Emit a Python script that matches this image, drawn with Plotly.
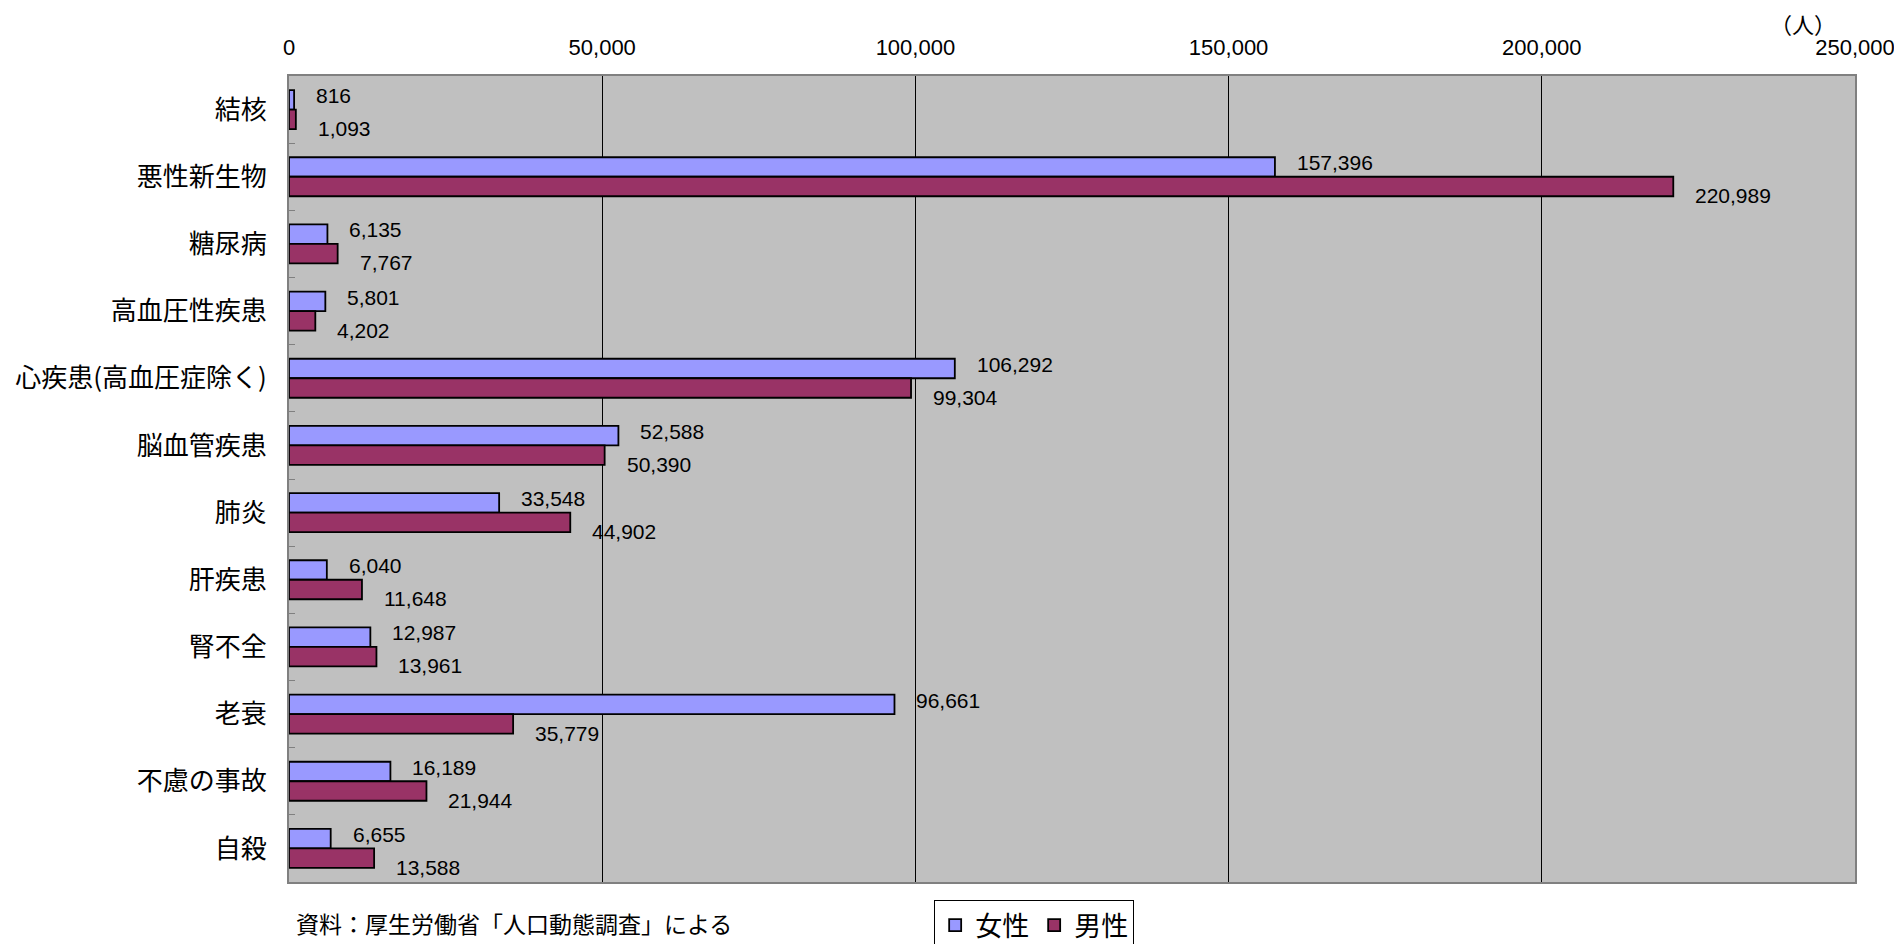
import plotly.graph_objects as go

categories = ["結核", "悪性新生物", "糖尿病", "高血圧性疾患", "心疾患(高血圧症除く)",
              "脳血管疾患", "肺炎", "肝疾患", "腎不全", "老衰", "不慮の事故", "自殺"]
female = [816, 157396, 6135, 5801, 106292, 52588, 33548, 6040, 12987, 96661, 16189, 6655]
male = [1093, 220989, 7767, 4202, 99304, 50390, 44902, 11648, 13961, 35779, 21944, 13588]
series_names = ["女性", "男性"]
x_ticks = [0, 50000, 100000, 150000, 200000, 250000]

FONT = "Liberation Sans, Noto Sans CJK JP, sans-serif"
JFONT = "Noto Sans CJK JP, sans-serif"

fig = go.Figure()
fig.add_trace(go.Bar(y=categories, x=female, orientation="h", name=series_names[0],
                     marker=dict(color="#9999FF", line=dict(color="black", width=1.8))))
fig.add_trace(go.Bar(y=categories, x=male, orientation="h", name=series_names[1],
                     marker=dict(color="#993366", line=dict(color="black", width=1.8))))

ann = []
for c, v in zip(categories, female):
    ann.append(dict(x=v, y=c, xref="x", yref="y", text=f"{v:,}", showarrow=False,
                    xanchor="left", yanchor="middle", xshift=20, yshift=14,
                    font=dict(family=FONT, size=21, color="black")))
for c, v in zip(categories, male):
    ann.append(dict(x=v, y=c, xref="x", yref="y", text=f"{v:,}", showarrow=False,
                    xanchor="left", yanchor="middle", xshift=20, yshift=-19,
                    font=dict(family=FONT, size=21, color="black")))
ann.append(dict(x=0.967, y=1.045, xref="paper", yref="paper", text="（人）", showarrow=False,
                xanchor="center", yanchor="bottom", borderpad=0,
                font=dict(family=JFONT, size=22, color="black")))
ann.append(dict(x=0.004, y=-0.028, xref="paper", yref="paper",
                text="資料：厚生労働省「人口動態調査」による", showarrow=False,
                xanchor="left", yanchor="top", borderpad=0,
                font=dict(family=JFONT, size=23, color="black")))

fig.update_layout(
    width=1894, height=936,
    margin=dict(l=281, r=47, t=68, b=62, autoexpand=False),
    paper_bgcolor="white", plot_bgcolor="#C0C0C0",
    barmode="group", bargap=0.42, bargroupgap=0,
    font=dict(family=FONT, size=20, color="black"),
    annotations=ann,
    legend=dict(orientation="h", xref="container", yref="container",
                x=0.489, y=0.047, xanchor="left", yanchor="top",
                bordercolor="black", borderwidth=1, bgcolor="white",
                font=dict(family=JFONT, size=27, color="black"),
                itemwidth=30, tracegroupgap=0),
    xaxis=dict(side="top", range=[0, 250000], tickvals=x_ticks,
               ticktext=[f"{t:,}" for t in x_ticks], automargin=False,
               showgrid=True, gridcolor="black", gridwidth=1, zeroline=False,
               showline=True, linecolor="#808080", linewidth=2, mirror=True,
               ticks="", ticklabelstandoff=10,
               tickfont=dict(family=FONT, size=22, color="black")),
    yaxis=dict(type="category", autorange="reversed", showgrid=False, automargin=False,
               showline=True, linecolor="#808080", linewidth=2, mirror=True,
               ticks="inside", tickson="boundaries", ticklen=6, tickcolor="#808080",
               ticklabelstandoff=15,
               tickfont=dict(family=JFONT, size=26, color="black")),
)

fig.write_html("out.html")
